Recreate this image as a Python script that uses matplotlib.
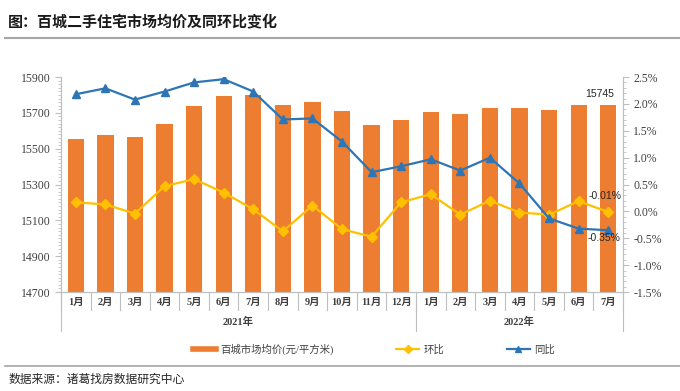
import matplotlib
matplotlib.use("Agg")
import matplotlib.pyplot as plt
from matplotlib.ticker import MultipleLocator, FuncFormatter
from matplotlib.lines import Line2D
import matplotlib.transforms as mtransforms

plt.rcParams['font.family'] = ['Liberation Serif', 'Noto Sans CJK SC', 'DejaVu Sans']

months = ['1月', '2月', '3月', '4月', '5月', '6月', '7月', '8月', '9月', '10月', '11月', '12月',
          '1月', '2月', '3月', '4月', '5月', '6月', '7月']
years = ['2021年', '2022年']
year_sizes = [12, 7]

price = [15555, 15577, 15565, 15637, 15738, 15794, 15800, 15743, 15760, 15710, 15632, 15660,
         15705, 15693, 15727, 15727, 15716, 15743, 15745]
mom = [0.17, 0.13, -0.04, 0.47, 0.60, 0.35, 0.04, -0.37, 0.11, -0.33, -0.47, 0.17,
       0.32, -0.06, 0.20, -0.02, -0.06, 0.19, -0.01]
yoy = [2.18, 2.29, 2.08, 2.23, 2.40, 2.46, 2.23, 1.71, 1.73, 1.30, 0.73, 0.84,
       0.97, 0.76, 1.00, 0.52, -0.13, -0.32, -0.35]

c_bar = '#ED7D31'
c_mom = '#FFC000'
c_yoy = '#2E75B6'
c_axis = '#BFBFBF'

fig = plt.figure(figsize=(6.8, 3.91), dpi=100)
ax = fig.add_axes([0.0897, 0.253, 0.8265, 0.55])
ax2 = ax.twinx()

x = list(range(len(price)))
ax.bar(x, price, width=0.55, color=c_bar, zorder=2)
ax.set_ylim(14700, 15900)
ax.set_xlim(-0.5, len(price) - 0.5)
ax.set_yticks(list(range(14700, 15901, 200)))
ax.yaxis.set_minor_locator(MultipleLocator(20))

ax2.plot(x, mom, color=c_mom, marker='D', markersize=5, linewidth=1.6, zorder=3)
ax2.plot(x, yoy, color=c_yoy, marker='^', markersize=6, linewidth=1.6, zorder=3)
ax2.set_ylim(-1.5, 2.5)
ax2.yaxis.set_major_locator(MultipleLocator(0.5))
ax2.yaxis.set_minor_locator(MultipleLocator(0.1))
ax2.yaxis.set_major_formatter(FuncFormatter(lambda v, p: '%.1f%%' % v))

for a in (ax, ax2):
    a.spines['top'].set_visible(False)
    for s in ('left', 'right', 'bottom'):
        a.spines[s].set_color(c_axis)
    a.tick_params(axis='y', which='both', color=c_axis, labelsize=8.5, labelcolor='#404040')
    a.tick_params(axis='y', which='major', length=4)
    a.tick_params(axis='y', which='minor', length=2)
    a.tick_params(axis='x', which='both', bottom=False, labelbottom=False)

# category axis with two levels
trans = mtransforms.blended_transform_factory(ax.transData, ax.transAxes)
for i, m in enumerate(months):
    ax.text(i, -0.05, m, transform=trans, ha='center', va='center', fontsize=7.5,
            color='#404040', fontweight='bold')
for i in range(len(months) + 1):
    ax.add_line(Line2D([i - 0.5, i - 0.5], [0, -0.085], transform=trans, color=c_axis,
                       linewidth=0.8, clip_on=False))
start = 0
for yname, n in zip(years, year_sizes):
    ax.text(start + n / 2 - 0.5, -0.14, yname, transform=trans, ha='center', va='center',
            fontsize=7.5, color='#404040', fontweight='bold')
    ax.add_line(Line2D([start - 0.5, start - 0.5], [0, -0.18], transform=trans, color=c_axis,
                       linewidth=0.8, clip_on=False))
    start += n
ax.add_line(Line2D([start - 0.5, start - 0.5], [0, -0.18], transform=trans, color=c_axis,
                   linewidth=0.8, clip_on=False))

# labels for the last point
last = len(price) - 1
lab_font = ['Liberation Sans', 'DejaVu Sans']
ax.annotate(str(price[last]), (last, price[last]), xytext=(-6, 4), textcoords='offset points',
            ha='center', va='bottom', fontsize=7.5, color='#262626', family=lab_font)
ax2.annotate('%.2f%%' % mom[last], (last, mom[last]), xytext=(-2, 8), textcoords='offset points',
             ha='center', va='bottom', fontsize=7.5, color='#262626', family=lab_font)
ax2.annotate('%.2f%%' % yoy[last], (last, yoy[last]), xytext=(-3, -2), textcoords='offset points',
             ha='center', va='top', fontsize=7.5, color='#262626', family=lab_font)

# legend
handles = [Line2D([], [], color=c_bar, linewidth=4),
           Line2D([], [], color=c_mom, marker='D', markersize=4, linewidth=1.6),
           Line2D([], [], color=c_yoy, marker='^', markersize=5, linewidth=1.6)]
fig.legend(handles, ['百城市场均价(元/平方米)', '环比', '同比'], loc='center',
           bbox_to_anchor=(0.55, 0.107), ncol=3, frameon=False, fontsize=7.5,
           columnspacing=6, handlelength=2.2, handletextpad=0.4, labelcolor='#404040')

# title and source
fig.text(0.012, 0.945, '图：百城二手住宅市场均价及同环比变化', fontsize=10.8, fontweight='bold',
         ha='left', va='center', color='#1a1a1a')
fig.add_artist(Line2D([0.008, 1.0], [0.903, 0.903], color='#A6A6A6', linewidth=1.5))
fig.add_artist(Line2D([0.008, 1.0], [0.064, 0.064], color='#A6A6A6', linewidth=1.2))
fig.text(0.012, 0.028, '数据来源：诸葛找房数据研究中心', fontsize=8.5, ha='left', va='center',
         color='#262626')

fig.savefig('out.png', dpi=100)
